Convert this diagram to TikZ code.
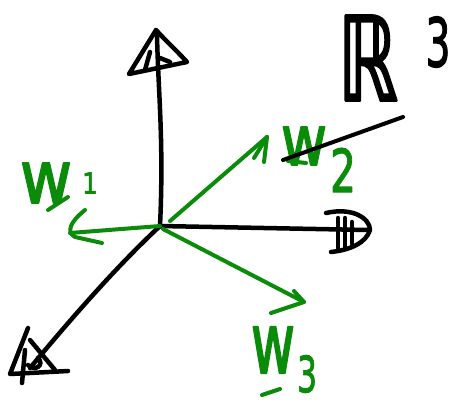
\documentclass[tikz,border=0pt]{standalone}
\usepackage{fontspec}
\newfontfamily\hand[FakeBold=2.5]{DejaVu Sans}
\newfontfamily\handd[FakeBold=2]{DejaVu Sans}
\begin{document}
\begin{tikzpicture}[x=1pt,y=-1pt,line cap=round,line join=round]
\definecolor{penGreen}{RGB}{10,140,10}
\tikzset{
  axis/.style={line width=4.5pt,black},
  vec/.style={line width=4pt,penGreen},
  lbl/.style={text=penGreen,inner sep=0pt},
  blk/.style={inner sep=0pt,text=black}}
\useasboundingbox (0,0) rectangle (457,407);
% coordinates
\coordinate (O) at (160,226);
\coordinate (ztop) at (157,34);
\coordinate (xend) at (368,230);
\coordinate (yend) at (30,368);
\coordinate (w1) at (70,233);
\coordinate (w2) at (267,137);
\coordinate (w3) at (304,302);
\coordinate (la) at (283,160);
\coordinate (lb) at (403,117);
% axes
\draw[axis] (O) .. controls (164,140) and (158,90) .. (ztop);
\draw[axis] (O) -- (xend);
\draw[axis] (O) .. controls (115,268) and (70,320) .. (yend);
% top arrow head
\draw[axis] (156,30) -- (129,74) -- (187,62) .. controls (176,50) and (165,40) .. (156,30);
\draw[axis] (150,52) -- (145,70);
\draw[axis] (160,58) -- (170,62);
% right arrow head
\draw[axis] (326,213) .. controls (352,207) and (370,218) .. (370,230) .. controls (366,243) and (350,250) .. (331,252);
\draw[axis] (338,218) -- (338,248);
\draw[axis] (345,218) -- (345,247);
\draw[axis] (352,222) -- (352,244);
% bottom-left arrow head
\draw[axis] (28,328) -- (10,374) -- (68,371);
\draw[axis] (30,340) -- (55,370);
\draw[axis] (25,350) -- (22,383);
\draw[axis] (28,365) .. controls (35,372) and (45,365) .. (38,358);
% green vectors
\draw[vec] (O) -- (w1);
\draw[vec] (85,210) .. controls (70,222) and (66,232) .. (75,237) -- (102,243);
\draw[vec] (170,221) -- (w2);
\draw[vec] (w2) -- (254,158);
\draw[vec] (w2) -- (264,162);
\draw[vec] (163,229) -- (w3);
\draw[vec] (294,291) -- (w3) -- (271,313);
% labels
\node[lbl] (l1) at (46,183) {\resizebox{52pt}{40pt}{\hand w}};
\draw[vec] (48,210) -- (68,197);
\node[lbl] (s1) at (90,183) {\resizebox{16pt}{21pt}{\handd 1}};
\node[lbl] (l2) at (304,146) {\resizebox{46pt}{38pt}{\hand w}};
\draw[vec] (288,161) -- (306,163);
\node[lbl] (s2) at (343,170) {\resizebox{26pt}{44pt}{\handd 2}};
\node[lbl] (l3) at (273,350) {\resizebox{44pt}{46pt}{\hand w}};
\draw[vec] (262,395) -- (280,389);
\node[lbl] (s3) at (307,374) {\resizebox{20pt}{37pt}{\handd 3}};
% stray line
\draw[axis,line width=4pt] (la) -- (lb);
% R^3
\node[blk] (R) at (368,58) {\resizebox{60pt}{85pt}{\hand ℝ}};
\node[blk] (e3) at (438,42) {\resizebox{25pt}{50pt}{\handd 3}};
\end{tikzpicture}
\end{document}
